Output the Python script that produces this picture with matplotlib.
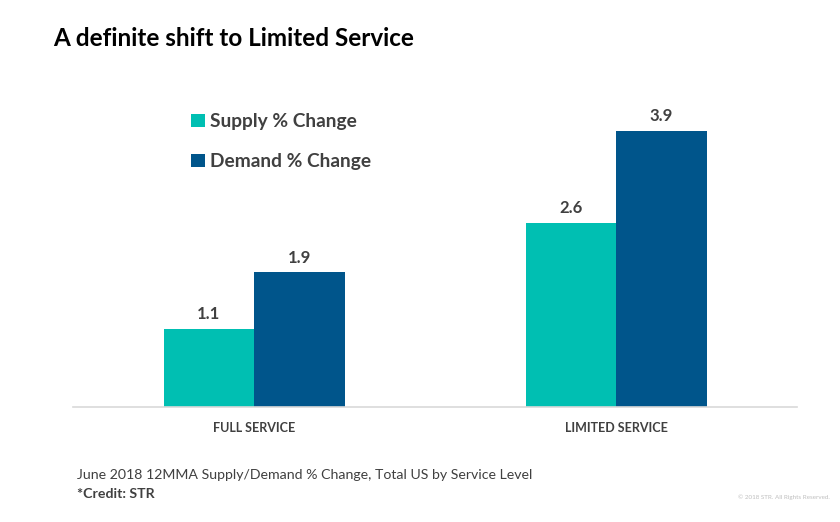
import matplotlib
matplotlib.use("Agg")
import matplotlib.pyplot as plt
import numpy as np

categories = ["FULL SERVICE", "LIMITED SERVICE"]
series_names = ["Supply % Change", "Demand % Change"]
supply = [1.1, 2.6]
demand = [1.9, 3.9]

plt.rcParams['font.family'] = ['Lato', 'DejaVu Sans']
teal = "#00BFB2"
navy = "#00558B"
txt = "#404040"

fig = plt.figure(figsize=(8.4, 5.22), dpi=100)
ax = fig.add_axes([73/840, 115/522, 724/840, 318.6/522])

x = np.arange(len(categories))
w = 0.25
b1 = ax.bar(x - w/2, supply, w, color=teal, label=series_names[0])
b2 = ax.bar(x + w/2, demand, w, color=navy, label=series_names[1])

for bars, vals in ((b1, supply), (b2, demand)):
    for r, v in zip(bars, vals):
        ax.annotate(f"{v:.1f}", (r.get_x() + r.get_width()/2, v), xytext=(0, 5),
                    textcoords="offset points", ha="center", va="bottom",
                    fontsize=12, fontweight="bold", color=txt)

ax.set_xlim(-0.5, 1.5)
ax.set_ylim(0, 4.5)
ax.set_xticks(x)
ax.set_xticklabels(categories, fontsize=9, fontweight="bold", color=txt)
ax.tick_params(axis="x", length=0, pad=11)
ax.set_yticks([])
for s in ["top", "right", "left"]:
    ax.spines[s].set_visible(False)
ax.spines["bottom"].set_color("#D9D9D9")
ax.spines["bottom"].set_linewidth(1.2)

leg = fig.legend(loc="upper left", bbox_to_anchor=(174/840, 1 - 96/522), frameon=False,
                 prop={"size": 13.8, "weight": "bold"}, handlelength=0.7, handleheight=0.7,
                 handletextpad=0.3, labelspacing=1.2, labelcolor=txt)

fig.text(53/840, 1 - 38/522, "A definite shift to Limited Service", fontsize=17.5,
         fontweight="bold", color="black", va="center", ha="left")
fig.text(77/840, 1 - 475/522, "June 2018 12MMA Supply/Demand % Change, Total US by Service Level",
         fontsize=10.2, color=txt, va="center", ha="left")
fig.text(77/840, 1 - 494/522, "*Credit: STR", fontsize=10.2, fontweight="bold", color=txt,
         va="center", ha="left")
fig.text(830/840, 1 - 497/522, "© 2018 STR. All Rights Reserved.", fontsize=4.5,
         color="#BFBFBF", va="center", ha="right")

fig.savefig("out.png", dpi=100)
